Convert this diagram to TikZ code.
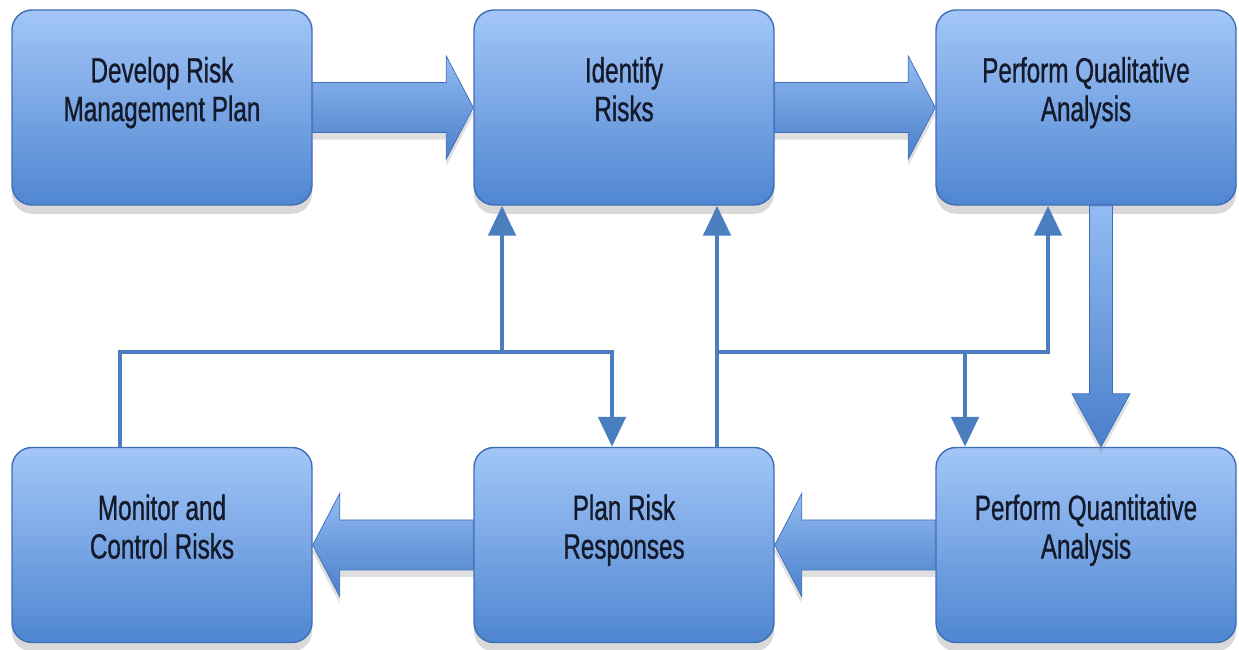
\documentclass[tikz,border=0pt]{standalone}
\usepackage{fontspec}
\newfontfamily\stepfont{Liberation Sans}[FakeStretch=0.69,FakeBold=0.8]
\usetikzlibrary{calc,shadows,arrows.meta}

\definecolor{boxtop}{HTML}{A3C6F7}
\definecolor{boxbottom}{HTML}{4F86D2}
\definecolor{boxedge}{HTML}{3D6DB5}
\definecolor{arrowtop}{HTML}{92BBF2}
\definecolor{arrowbottom}{HTML}{4A7FCB}
\definecolor{linkblue}{HTML}{4A7EBF}
\definecolor{inkdark}{HTML}{141A2A}

\tikzset{
  stepbox/.style={rectangle, rounded corners=0.4cm, draw=boxedge, line width=0.8pt,
    top color=boxtop, bottom color=boxbottom, minimum width=6cm, minimum height=3.9cm,
    inner sep=0pt, align=center, text=inkdark,
    font=\stepfont\fontsize{20}{22}\selectfont, text depth=21pt,
    drop shadow={shadow xshift=0pt, shadow yshift=-5pt, opacity=0.3}},
  bigarrow/.style={draw=boxedge, line width=0.4pt, top color=arrowtop, bottom color=arrowbottom,
    drop shadow={shadow xshift=0pt, shadow yshift=-4pt, opacity=0.25}},
  link/.style={draw=linkblue, line width=2.8pt, -{Triangle[width=0.54cm,length=0.6cm]}}
}

% wide arrow from the east side of #1 to the west side of #2
\newcommand{\arrowright}[2]{%
  \path[bigarrow] ($(#1.east)+(0,0.5)$) -- ($(#2.west)+(-0.54,0.5)$) -- ($(#2.west)+(-0.54,1.03)$)
    -- (#2.west) -- ($(#2.west)+(-0.54,-1.03)$) -- ($(#2.west)+(-0.54,-0.5)$)
    -- ($(#1.east)+(0,-0.5)$) -- cycle;}
% wide arrow from the west side of #1 to the east side of #2
\newcommand{\arrowleft}[2]{%
  \path[bigarrow] ($(#1.west)+(0,0.5)$) -- ($(#2.east)+(0.54,0.5)$) -- ($(#2.east)+(0.54,1.03)$)
    -- (#2.east) -- ($(#2.east)+(0.54,-1.03)$) -- ($(#2.east)+(0.54,-0.5)$)
    -- ($(#1.west)+(0,-0.5)$) -- cycle;}

\begin{document}
\begin{tikzpicture}

\useasboundingbox (0,0) rectangle (24.78,13);

\node [stepbox] (plan) at (3.24,10.85) {Develop Risk\\Management Plan};
\node [stepbox] (ident) at (12.48,10.85) {Identify\\Risks};
\node [stepbox] (qual) at (21.72,10.85) {Perform Qualitative\\Analysis};
\node [stepbox] (monit) at (3.24,2.1) {Monitor and\\Control Risks};
\node [stepbox] (resp) at (12.48,2.1) {Plan Risk\\Responses};
\node [stepbox] (quant) at (21.72,2.1) {Perform Quantitative\\Analysis};

\arrowright{plan}{ident}
\arrowright{ident}{qual}
\arrowleft{quant}{resp}
\arrowleft{resp}{monit}

\path[bigarrow] ($(qual.south)+(0.07,0)$) -- ($(quant.north)+(0.07,1.06)$) -- ($(quant.north)+(-0.28,1.06)$)
  -- ($(quant.north)+(0.3,0)$) -- ($(quant.north)+(0.88,1.06)$) -- ($(quant.north)+(0.53,1.06)$)
  -- ($(qual.south)+(0.53,0)$) -- cycle;

% feedback lines
\coordinate (b1) at (2.4,5.96);
\coordinate (b2) at (10.04,5.96);
\coordinate (b3) at (12.24,5.96);
\coordinate (b4) at (14.34,5.96);
\coordinate (b5) at (19.3,5.96);
\coordinate (b6) at (20.96,5.96);

\draw [link] (b1 |- monit.north) -- (b1) -- (b3) -- (b3 |- resp.north);
\draw [link] (b2) -- (b2 |- ident.south);
\draw [link] (b4 |- resp.north) -- (b4 |- ident.south);
\draw [link] (b4) -- (b6) -- (b6 |- qual.south);
\draw [link] (b5) -- (b5 |- quant.north);

\end{tikzpicture}
\end{document}
